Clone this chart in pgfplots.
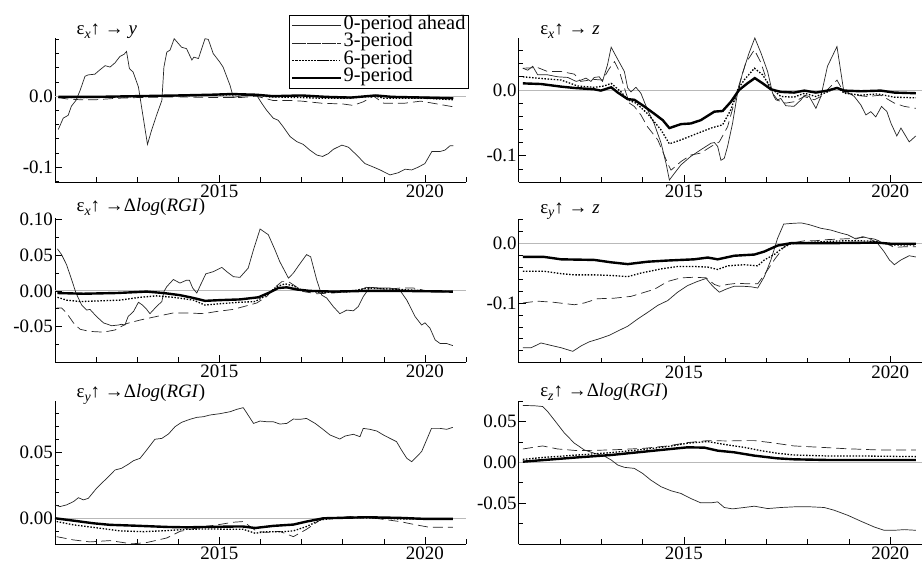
\documentclass[border=0pt]{standalone}
\usepackage{fontspec}
\setmainfont{Liberation Serif}
\usepackage{pgfplots}
\pgfplotsset{compat=1.18}
\newcommand{\sub}[1]{\raisebox{-0.4ex}{\fontsize{14}{14}\selectfont\textit{#1}}}
\newcommand{\fs}{\fontsize{19}{22}\selectfont}
\newcommand{\T}[1]{\mbox{#1}}
\pgfplotsset{
 panel/.style={scale only axis, axis x line=bottom, axis y line=left,
   axis line style={-, line width=0.7bp, black},
   tick align=inside, major tick length=7bp, minor tick length=4.5bp,
   every tick/.style={line width=0.6bp, black},
   scaled ticks=false, /pgf/number format/assume math mode=true,
   xmin=2011, xtick={2015,2020}, xticklabels={\T{2015},\T{2020}},
   minor xtick={2011,2012,2013,2014,2016,2017,2018,2019,2021},
   ticklabel style={font=\fs}, yticklabel style={inner sep=2bp},
   xticklabel style={inner sep=3bp},
   anchor=south west, clip mode=individual},
 s0/.style={line width=0.7bp, black!85},
 s3/.style={line width=0.7bp, black!85, dash pattern=on 10bp off 5bp},
 s6/.style={line width=1.3bp, black, dash pattern=on 1.5bp off 1.6bp},
 s9/.style={line width=2.4bp, black},
 zl/.style={gray!55, line width=0.8bp, forget plot},
}
\begin{document}
\begin{tikzpicture}[font=\fs]
\useasboundingbox (0,0) rectangle (922bp,563bp);
% ---------------- Panel 1
\begin{axis}[panel, at={(55bp,381bp)}, width=411bp, height=144bp, xmax=2021,
  ymin=-0.121, ymax=0.082, ytick={-0.1,0}, yticklabels={\T{-0.1},\T{0.0}},
  minor ytick={-0.12,-0.08,-0.06,-0.04,-0.02,0.02,0.04,0.06,0.08},
  legend style={at={(0.569,1.16)}, anchor=north west, draw=black, line width=0.6bp,
    fill=white, font=\fontsize{20.5}{17}\selectfont, inner xsep=2bp, inner ysep=1.5bp,
    nodes={inner sep=1bp, text height=11.5bp, text depth=4bp}},
  legend cell align=left,
  legend image code/.code={\path (-4bp,0bp) -- (45bp,0bp); \draw[#1] (0bp,0bp) -- (40bp,0bp);}]
\addplot[zl] coordinates {(2011,0) (2021,0)};
\addplot[s0] coordinates {(2011.08,-0.047)(2011.2,-0.031)(2011.32,-0.027)(2011.4,-0.014)(2011.51,-0.006)(2011.61,0.008)(2011.73,0.028)(2011.81,0.030)(2011.97,0.031)(2012.09,0.037)(2012.22,0.043)(2012.34,0.041)(2012.46,0.047)(2012.58,0.056)(2012.68,0.059)(2012.74,0.063)(2012.81,0.039)(2012.9,0.034)(2013.03,0.013)(2013.13,-0.024)(2013.25,-0.068)(2013.35,-0.048)(2013.47,-0.027)(2013.6,-0.006)(2013.65,0.041)(2013.72,0.062)(2013.8,0.065)(2013.9,0.081)(2014.08,0.069)(2014.2,0.067)(2014.33,0.051)(2014.38,0.055)(2014.49,0.053)(2014.65,0.081)(2014.73,0.080)(2014.85,0.06)(2015.01,0.048)(2015.09,0.041)(2015.26,0.015)(2015.34,-0.002)(2015.58,0.001)(2015.91,0.001)(2016.03,-0.010)(2016.15,-0.020)(2016.31,-0.031)(2016.43,-0.034)(2016.55,-0.043)(2016.72,-0.057)(2016.88,-0.064)(2017.04,-0.068)(2017.2,-0.076)(2017.37,-0.083)(2017.51,-0.085)(2017.65,-0.081)(2017.77,-0.075)(2017.98,-0.069)(2018.14,-0.072)(2018.34,-0.083)(2018.54,-0.095)(2018.75,-0.1)(2018.91,-0.104)(2019.15,-0.111)(2019.35,-0.108)(2019.52,-0.103)(2019.68,-0.104)(2019.84,-0.1)(2020.0,-0.095)(2020.17,-0.078)(2020.37,-0.078)(2020.49,-0.076)(2020.61,-0.07)(2020.69,-0.07)};
\addlegendentry{0-period ahead}
\addplot[s3] coordinates {(2011.08,-0.002)(2011.3,-0.004)(2011.6,-0.005)(2012.0,-0.005)(2012.5,-0.003)(2013.0,-0.002)(2014.0,-0.001)(2015.0,-0.002)(2015.5,-0.002)(2015.9,0.0)(2016.3,-0.006)(2016.7,-0.006)(2017.0,-0.007)(2017.5,-0.010)(2018.0,-0.011)(2018.25,-0.013)(2018.5,-0.008)(2018.75,0.0)(2019.0,-0.010)(2019.5,-0.010)(2019.9,-0.007)(2020.2,-0.010)(2020.69,-0.015)};
\addlegendentry{3-period}
\addplot[s6] coordinates {(2011.08,-0.002)(2011.5,-0.002)(2012.5,-0.001)(2013.5,0.0)(2014.5,0.001)(2015.3,0.002)(2015.9,0.002)(2016.2,-0.001)(2017.0,-0.002)(2017.5,-0.003)(2018.0,-0.003)(2018.8,0.0)(2019.0,-0.003)(2020.0,-0.003)(2020.69,-0.005)};
\addlegendentry{6-period}
\addplot[s9] coordinates {(2011.08,-0.001)(2012.0,-0.001)(2013.0,0.0)(2014.0,0.001)(2014.8,0.002)(2015.3,0.003)(2015.9,0.002)(2016.3,0.0)(2017.0,0.001)(2017.6,-0.001)(2018.2,-0.002)(2018.8,0.001)(2019.2,-0.001)(2020.0,-0.002)(2020.69,-0.003)};
\addlegendentry{9-period}
\node[anchor=base west, inner sep=0pt] at (rel axis cs:0.052,1) [yshift=3bp] {ε\sub{x}↑ → \textit{y}};
\end{axis}
% ---------------- Panel 2
\begin{axis}[panel, at={(518.7bp,381bp)}, width=403.3bp, height=144bp, xmax=2020.77,
  ymin=-0.14, ymax=0.079, ytick={-0.1,0}, yticklabels={\T{-0.1},\T{0.0}},
  minor ytick={-0.14,-0.12,-0.08,-0.06,-0.04,-0.02,0.02,0.04,0.06}]
\addplot[zl] coordinates {(2011,0) (2021,0)};
\addplot[s0] coordinates {(2011.1,0.033)(2011.22,0.030)(2011.34,0.036)(2011.46,0.023)(2011.7,0.023)(2011.94,0.020)(2012.19,0.019)(2012.39,0.013)(2012.51,0.015)(2012.63,0.018)(2012.75,0.013)(2012.83,0.019)(2012.95,0.020)(2013.03,0.013)(2013.15,0.038)(2013.24,0.065)(2013.36,0.051)(2013.56,0.028)(2013.64,0.003)(2013.72,-0.003)(2013.84,0.004)(2013.96,-0.005)(2014.12,-0.03)(2014.28,-0.051)(2014.45,-0.081)(2014.57,-0.112)(2014.65,-0.137)(2014.77,-0.127)(2014.93,-0.114)(2015.17,-0.101)(2015.41,-0.091)(2015.66,-0.081)(2015.74,-0.08)(2015.82,-0.086)(2015.9,-0.107)(2015.98,-0.104)(2016.06,-0.086)(2016.18,-0.051)(2016.3,-0.005)(2016.42,0.025)(2016.58,0.056)(2016.72,0.079)(2016.87,0.056)(2017.03,0.028)(2017.15,-0.005)(2017.27,-0.015)(2017.35,-0.013)(2017.47,-0.024)(2017.67,-0.025)(2017.84,-0.015)(2017.92,-0.008)(2018.04,-0.01)(2018.2,-0.028)(2018.32,-0.01)(2018.48,0.036)(2018.71,0.066)(2018.87,0.0)(2019.01,-0.005)(2019.13,-0.01)(2019.29,-0.023)(2019.41,-0.038)(2019.53,-0.033)(2019.65,-0.041)(2019.79,-0.025)(2019.92,-0.033)(2020.02,-0.051)(2020.16,-0.07)(2020.26,-0.058)(2020.46,-0.079)(2020.62,-0.07)};
\addplot[s3] coordinates {(2011.1,0.033)(2011.46,0.034)(2011.7,0.028)(2012.03,0.028)(2012.35,0.024)(2012.5,0.013)(2012.83,0.016)(2013.03,0.015)(2013.2,0.033)(2013.32,0.043)(2013.44,0.028)(2013.56,0.003)(2013.68,-0.02)(2013.8,-0.025)(2013.96,-0.038)(2014.12,-0.056)(2014.37,-0.076)(2014.61,-0.112)(2014.69,-0.122)(2014.93,-0.109)(2015.17,-0.099)(2015.41,-0.096)(2015.66,-0.086)(2015.86,-0.079)(2016.06,-0.056)(2016.22,-0.02)(2016.34,0.008)(2016.5,0.041)(2016.71,0.061)(2016.87,0.041)(2017.07,0.003)(2017.23,-0.015)(2017.47,-0.02)(2017.67,-0.018)(2017.92,-0.01)(2018.16,-0.015)(2018.32,-0.01)(2018.52,0.003)(2018.71,0.015)(2018.87,-0.003)(2019.13,-0.008)(2019.45,-0.01)(2019.77,-0.008)(2020.1,-0.02)(2020.34,-0.025)(2020.62,-0.028)};
\addplot[s6] coordinates {(2011.1,0.020)(2011.62,0.017)(2012.03,0.015)(2012.43,0.006)(2012.83,0.004)(2013.07,0.006)(2013.24,0.01)(2013.48,-0.003)(2013.64,-0.015)(2013.84,-0.02)(2014.12,-0.036)(2014.45,-0.061)(2014.65,-0.082)(2014.93,-0.076)(2015.25,-0.068)(2015.66,-0.058)(2015.94,-0.053)(2016.14,-0.03)(2016.3,0.0)(2016.46,0.015)(2016.71,0.033)(2016.91,0.023)(2017.11,0.003)(2017.35,-0.01)(2017.67,-0.011)(2017.92,-0.005)(2018.2,-0.01)(2018.48,-0.003)(2018.71,0.004)(2018.89,-0.005)(2019.29,-0.008)(2019.69,-0.006)(2020.1,-0.011)(2020.62,-0.012)};
\addplot[s9] coordinates {(2011.1,0.010)(2011.54,0.009)(2012.03,0.005)(2012.35,0.003)(2012.83,0.001)(2012.99,-0.001)(2013.24,0.004)(2013.4,-0.004)(2013.64,-0.014)(2013.8,-0.015)(2014.04,-0.025)(2014.28,-0.036)(2014.49,-0.046)(2014.65,-0.058)(2014.93,-0.052)(2015.17,-0.051)(2015.41,-0.046)(2015.74,-0.033)(2015.94,-0.032)(2016.14,-0.018)(2016.34,0.0)(2016.54,0.01)(2016.72,0.018)(2016.91,0.010)(2017.11,0.001)(2017.35,-0.003)(2017.67,-0.004)(2017.92,-0.001)(2018.2,-0.004)(2018.48,-0.001)(2018.71,0.003)(2018.89,-0.001)(2019.29,-0.002)(2019.77,-0.001)(2020.1,-0.004)(2020.62,-0.005)};
\node[anchor=base west, inner sep=0pt] at (rel axis cs:0.053,1) [yshift=3bp] {ε\sub{x}↑ → \textit{z}};
\end{axis}
% ---------------- Panel 3
\begin{axis}[panel, at={(55bp,201bp)}, width=411bp, height=144bp, xmax=2021,
  ymin=-0.1, ymax=0.1025, ytick={-0.05,0,0.05,0.1}, yticklabels={\T{-0.05},\T{0.00},\T{0.05},\T{0.10}},
  minor ytick={-0.1,-0.075,-0.025,0.025,0.075}]
\addplot[zl] coordinates {(2011,0) (2021,0)};
\addplot[s0] coordinates {(2011.06,0.059)(2011.16,0.051)(2011.28,0.037)(2011.41,0.015)(2011.51,-0.003)(2011.65,-0.020)(2011.77,-0.027)(2011.85,-0.026)(2012.01,-0.036)(2012.18,-0.045)(2012.38,-0.049)(2012.54,-0.048)(2012.62,-0.047)(2012.7,-0.048)(2012.78,-0.036)(2012.91,-0.029)(2013.03,-0.016)(2013.13,-0.02)(2013.23,-0.026)(2013.31,-0.032)(2013.47,-0.022)(2013.6,-0.015)(2013.65,-0.001)(2013.72,0.006)(2013.88,0.016)(2014.04,0.011)(2014.2,0.015)(2014.27,0.015)(2014.35,0.004)(2014.45,-0.003)(2014.53,0.007)(2014.67,0.024)(2014.85,0.027)(2015.06,0.033)(2015.18,0.027)(2015.34,0.020)(2015.5,0.019)(2015.7,0.032)(2015.83,0.058)(2015.99,0.087)(2016.19,0.079)(2016.35,0.058)(2016.47,0.041)(2016.68,0.018)(2016.8,0.025)(2016.92,0.035)(2017.12,0.051)(2017.22,0.048)(2017.37,0.015)(2017.49,-0.006)(2017.61,-0.01)(2017.77,-0.022)(2017.93,-0.032)(2018.1,-0.027)(2018.26,-0.028)(2018.38,-0.022)(2018.5,-0.008)(2018.66,0.005)(2018.91,0.004)(2019.15,0.004)(2019.39,0.001)(2019.56,-0.013)(2019.76,-0.036)(2019.92,-0.048)(2020.0,-0.045)(2020.12,-0.052)(2020.25,-0.069)(2020.37,-0.074)(2020.53,-0.074)(2020.68,-0.077)};
\addplot[s3] coordinates {(2011.04,-0.024)(2011.16,-0.024)(2011.28,-0.031)(2011.45,-0.045)(2011.61,-0.054)(2011.85,-0.057)(2012.18,-0.058)(2012.46,-0.055)(2012.74,-0.046)(2013.07,-0.041)(2013.47,-0.036)(2013.88,-0.031)(2014.2,-0.031)(2014.61,-0.032)(2014.93,-0.029)(2015.34,-0.026)(2015.66,-0.021)(2015.91,-0.017)(2016.15,-0.008)(2016.35,0.005)(2016.52,0.013)(2016.68,0.013)(2016.84,0.007)(2017.04,-0.001)(2017.37,-0.004)(2017.77,-0.003)(2018.18,-0.001)(2018.42,0.001)(2018.58,0.005)(2018.82,0.004)(2019.07,0.002)(2019.39,0.004)(2019.72,0.004)(2019.96,0.001)(2020.2,-0.001)(2020.68,-0.002)};
\addplot[s6] coordinates {(2011.06,-0.009)(2011.28,-0.013)(2011.61,-0.015)(2012.1,-0.014)(2012.58,-0.013)(2013.07,-0.009)(2013.47,-0.007)(2013.88,-0.009)(2014.37,-0.013)(2014.65,-0.020)(2015.01,-0.018)(2015.5,-0.016)(2015.87,-0.015)(2016.15,-0.006)(2016.39,0.006)(2016.6,0.010)(2016.8,0.007)(2017.0,0.001)(2017.45,-0.002)(2018.18,-0.001)(2018.58,0.004)(2018.98,0.003)(2019.39,0.002)(2020.04,0.0)(2020.68,-0.001)};
\addplot[s9] coordinates {(2011.06,-0.003)(2011.69,-0.004)(2012.5,-0.003)(2013.23,-0.001)(2013.64,-0.003)(2014.04,-0.006)(2014.37,-0.01)(2014.65,-0.014)(2015.01,-0.013)(2015.5,-0.012)(2015.95,-0.009)(2016.23,-0.002)(2016.43,0.004)(2016.64,0.005)(2016.88,0.002)(2017.2,0.0)(2017.77,-0.001)(2018.58,0.0)(2019.39,0.0)(2020.68,-0.001)};
\node[anchor=base west, inner sep=0pt] at (rel axis cs:0.052,1) [yshift=6bp] {ε\sub{x}↑ →Δ\textit{log}(\textit{RGI})};
\end{axis}
% ---------------- Panel 4
\begin{axis}[panel, at={(518.7bp,200.3bp)}, width=403.3bp, height=143.4bp, xmax=2020.77,
  ymin=-0.2, ymax=0.04, ytick={-0.1,0}, yticklabels={\T{-0.1},\T{0.0}},
  minor ytick={-0.18,-0.16,-0.14,-0.12,-0.08,-0.06,-0.04,-0.02,0.02,0.04}]
\addplot[zl] coordinates {(2011,0) (2021,0)};
\addplot[s0] coordinates {(2011.1,-0.175)(2011.3,-0.175)(2011.54,-0.167)(2011.78,-0.171)(2012.03,-0.175)(2012.31,-0.181)(2012.51,-0.172)(2012.71,-0.165)(2012.95,-0.16)(2013.2,-0.154)(2013.4,-0.147)(2013.64,-0.139)(2013.88,-0.127)(2014.12,-0.116)(2014.37,-0.104)(2014.61,-0.096)(2014.85,-0.082)(2015.09,-0.071)(2015.33,-0.064)(2015.54,-0.059)(2015.7,-0.072)(2015.86,-0.082)(2016.02,-0.077)(2016.22,-0.072)(2016.42,-0.072)(2016.63,-0.073)(2016.79,-0.075)(2016.95,-0.056)(2017.11,-0.028)(2017.27,0.008)(2017.42,0.032)(2017.59,0.033)(2017.84,0.034)(2018.04,0.031)(2018.32,0.025)(2018.56,0.022)(2018.8,0.017)(2018.97,0.014)(2019.17,0.007)(2019.33,0.011)(2019.49,0.008)(2019.69,0.0)(2019.85,-0.014)(2019.98,-0.028)(2020.1,-0.036)(2020.26,-0.028)(2020.46,-0.021)(2020.62,-0.023)};
\addplot[s3] coordinates {(2011.1,-0.1)(2011.46,-0.097)(2011.86,-0.099)(2012.35,-0.103)(2012.59,-0.1)(2012.91,-0.093)(2013.32,-0.092)(2013.72,-0.089)(2013.96,-0.084)(2014.29,-0.077)(2014.61,-0.064)(2014.93,-0.058)(2015.25,-0.057)(2015.54,-0.058)(2015.74,-0.069)(2015.86,-0.072)(2016.06,-0.069)(2016.3,-0.067)(2016.54,-0.068)(2016.79,-0.068)(2016.95,-0.053)(2017.19,-0.028)(2017.43,-0.006)(2017.59,0.0)(2017.92,0.004)(2018.16,0.004)(2018.48,0.006)(2018.8,0.007)(2019.13,0.008)(2019.37,0.01)(2019.61,0.007)(2019.85,0.001)(2020.1,-0.007)(2020.34,-0.006)(2020.62,-0.006)};
\addplot[s6] coordinates {(2011.1,-0.047)(2011.62,-0.047)(2012.03,-0.051)(2012.35,-0.053)(2012.83,-0.053)(2013.24,-0.054)(2013.64,-0.056)(2013.96,-0.05)(2014.45,-0.043)(2014.85,-0.039)(2015.25,-0.039)(2015.58,-0.04)(2015.82,-0.044)(2016.06,-0.038)(2016.46,-0.036)(2016.79,-0.038)(2016.95,-0.028)(2017.19,-0.019)(2017.39,-0.008)(2017.59,-0.001)(2018.0,0.001)(2018.48,0.003)(2018.89,0.004)(2019.29,0.004)(2019.69,0.003)(2020.02,-0.003)(2020.62,-0.003)};
\addplot[s9] coordinates {(2011.1,-0.023)(2011.62,-0.023)(2012.03,-0.027)(2012.83,-0.028)(2013.24,-0.032)(2013.64,-0.035)(2014.12,-0.031)(2014.61,-0.029)(2015.25,-0.027)(2015.58,-0.024)(2015.82,-0.027)(2016.22,-0.021)(2016.71,-0.019)(2016.95,-0.014)(2017.27,-0.004)(2017.59,0.0)(2018.48,0.0)(2019.69,0.001)(2020.02,-0.001)(2020.62,-0.001)};
\node[anchor=base west, inner sep=0pt] at (rel axis cs:0.053,1) [yshift=6bp] {ε\sub{y}↑ → \textit{z}};
\end{axis}
% ---------------- Panel 5
\begin{axis}[panel, at={(55bp,19bp)}, width=411bp, height=143.3bp, xmax=2021,
  ymin=-0.0196, ymax=0.0896, ytick={0,0.05}, yticklabels={\T{0.00},\T{0.05}},
  minor ytick={-0.02,-0.01,0.01,0.02,0.03,0.04,0.06,0.07,0.08,0.09}]
\addplot[zl] coordinates {(2011,0) (2021,0)};
\addplot[s0] coordinates {(2011.0,0.0102)(2011.12,0.0089)(2011.28,0.0102)(2011.45,0.0127)(2011.57,0.0157)(2011.69,0.014)(2011.81,0.0152)(2012.01,0.0228)(2012.26,0.0305)(2012.46,0.0368)(2012.62,0.0381)(2012.78,0.0411)(2012.91,0.0439)(2013.07,0.0457)(2013.23,0.052)(2013.43,0.0602)(2013.6,0.0609)(2013.76,0.0642)(2013.92,0.0698)(2014.08,0.0731)(2014.28,0.0754)(2014.45,0.0769)(2014.61,0.0774)(2014.77,0.0787)(2015.01,0.0797)(2015.26,0.0812)(2015.42,0.083)(2015.58,0.0843)(2015.66,0.0805)(2015.83,0.0723)(2015.99,0.0741)(2016.15,0.0736)(2016.31,0.0736)(2016.47,0.0718)(2016.64,0.0723)(2016.8,0.0756)(2016.96,0.0754)(2017.12,0.0761)(2017.33,0.0723)(2017.49,0.0685)(2017.69,0.0635)(2017.93,0.0604)(2018.06,0.0627)(2018.26,0.064)(2018.42,0.0622)(2018.5,0.0685)(2018.66,0.0678)(2018.83,0.0665)(2018.99,0.0635)(2019.15,0.0609)(2019.31,0.0584)(2019.43,0.052)(2019.56,0.0457)(2019.68,0.0431)(2019.8,0.047)(2019.92,0.0508)(2020.04,0.0596)(2020.16,0.0685)(2020.37,0.0685)(2020.53,0.0678)(2020.68,0.0693)};
\addplot[s3] coordinates {(2011.04,-0.014)(2011.45,-0.0165)(2011.85,-0.018)(2012.34,-0.017)(2012.87,-0.0195)(2013.23,-0.0185)(2013.72,-0.015)(2014.04,-0.010)(2014.53,-0.0069)(2014.93,-0.0051)(2015.34,-0.003)(2015.58,-0.0025)(2015.91,-0.010)(2016.15,-0.0107)(2016.47,-0.010)(2016.8,-0.014)(2017.12,-0.0084)(2017.45,-0.0013)(2017.77,0.0005)(2018.18,0.0013)(2018.58,0.0008)(2018.99,-0.0008)(2019.39,-0.0025)(2019.8,-0.0051)(2020.12,-0.0069)(2020.68,-0.0069)};
\addplot[s6] coordinates {(2011.04,-0.0025)(2011.45,-0.005)(2012.1,-0.0076)(2012.58,-0.0096)(2013.15,-0.0102)(2013.72,-0.0094)(2014.2,-0.0084)(2014.69,-0.0081)(2015.34,-0.0084)(2015.58,-0.0084)(2015.87,-0.0114)(2016.15,-0.0102)(2016.55,-0.0102)(2016.8,-0.0096)(2017.12,-0.0063)(2017.45,-0.0013)(2017.77,0.0)(2018.18,0.0005)(2018.58,0.0003)(2019.39,-0.0005)(2020.68,-0.0008)};
\addplot[s9] coordinates {(2011.0,0.0)(2011.45,-0.0018)(2011.93,-0.0038)(2012.34,-0.005)(2012.91,-0.0056)(2013.72,-0.0066)(2014.2,-0.0069)(2014.69,-0.0066)(2015.34,-0.0063)(2015.58,-0.0063)(2015.87,-0.0074)(2016.31,-0.0058)(2016.8,-0.0048)(2017.12,-0.0025)(2017.53,0.0)(2018.18,0.0005)(2018.58,0.0008)(2019.39,0.0003)(2020.04,-0.0005)(2020.68,-0.0005)};
\node[anchor=base west, inner sep=0pt] at (rel axis cs:0.052,1) [yshift=3bp] {ε\sub{y}↑ →Δ\textit{log}(\textit{RGI})};
\end{axis}
% ---------------- Panel 6
\begin{axis}[panel, at={(518.7bp,19bp)}, width=403.3bp, height=143.3bp, xmax=2020.77,
  ymin=-0.1, ymax=0.0755, ytick={-0.05,0,0.05}, yticklabels={\T{-0.05},\T{0.00},\T{0.05}},
  minor ytick={-0.1,-0.075,-0.025,0.025,0.075}]
\addplot[zl] coordinates {(2011,0) (2021,0)};
\addplot[s0] coordinates {(2011.1,0.0697)(2011.38,0.0693)(2011.58,0.0684)(2011.7,0.0623)(2011.86,0.052)(2012.11,0.0357)(2012.35,0.0234)(2012.59,0.0152)(2012.83,0.0111)(2013.07,0.0078)(2013.24,0.0029)(2013.4,-0.0033)(2013.56,-0.0061)(2013.8,-0.0074)(2014.0,-0.0135)(2014.2,-0.0217)(2014.45,-0.0299)(2014.69,-0.0348)(2014.93,-0.0381)(2015.17,-0.0443)(2015.41,-0.0496)(2015.66,-0.0496)(2015.82,-0.0484)(2015.98,-0.0553)(2016.18,-0.057)(2016.46,-0.0553)(2016.71,-0.0537)(2017.03,-0.0566)(2017.35,-0.0553)(2017.67,-0.0545)(2018.08,-0.0545)(2018.4,-0.0553)(2018.64,-0.0586)(2018.97,-0.0648)(2019.29,-0.0721)(2019.61,-0.0791)(2019.85,-0.0832)(2020.1,-0.0832)(2020.34,-0.0824)(2020.62,-0.0832)};
\addplot[s3] coordinates {(2011.1,0.0164)(2011.58,0.0201)(2011.94,0.0164)(2012.43,0.0143)(2013.24,0.0152)(2014.04,0.0172)(2014.61,0.0201)(2015.09,0.0242)(2015.58,0.0266)(2016.06,0.0262)(2016.46,0.0266)(2016.71,0.0266)(2017.11,0.0242)(2017.67,0.0201)(2018.32,0.0184)(2018.89,0.0168)(2019.69,0.0152)(2020.62,0.0152)};
\addplot[s6] coordinates {(2011.1,0.0037)(2011.62,0.0061)(2012.43,0.009)(2013.24,0.0119)(2014.04,0.016)(2014.61,0.0193)(2015.09,0.0234)(2015.58,0.0254)(2016.06,0.0213)(2016.46,0.0184)(2016.87,0.0143)(2017.27,0.0111)(2017.67,0.009)(2018.48,0.0078)(2019.29,0.0078)(2020.62,0.007)};
\addplot[s9] coordinates {(2011.1,0.0008)(2011.62,0.0029)(2012.43,0.0061)(2013.24,0.009)(2014.04,0.0131)(2014.61,0.016)(2015.09,0.0184)(2015.5,0.018)(2015.82,0.0143)(2016.22,0.0123)(2016.71,0.0082)(2017.27,0.0049)(2017.67,0.0037)(2018.48,0.0029)(2019.29,0.0029)(2020.62,0.0029)};
\node[anchor=base west, inner sep=0pt] at (rel axis cs:0.053,1) [yshift=4bp] {ε\sub{z}↑ →Δ\textit{log}(\textit{RGI})};
\end{axis}
\end{tikzpicture}
\end{document}
